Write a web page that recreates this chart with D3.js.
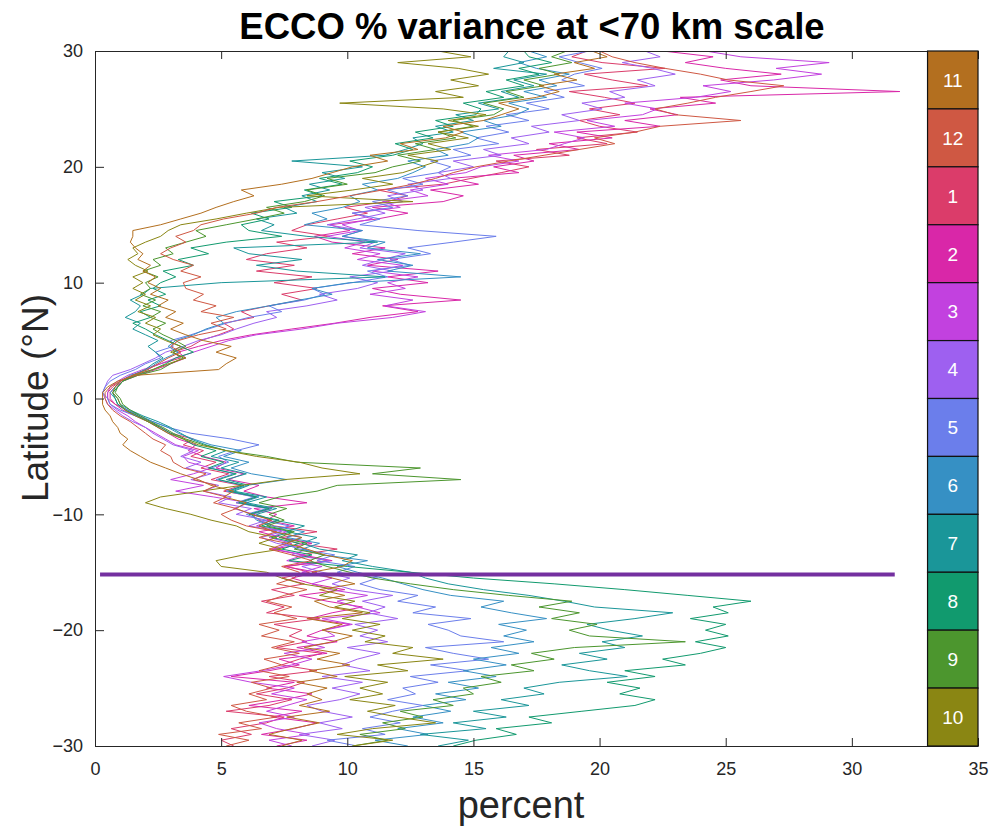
<!DOCTYPE html>
<html>
<head>
<meta charset="utf-8">
<script src="https://cdn.jsdelivr.net/npm/d3@7"></script>
<style>
  body { margin: 0; background: #fff; }
  text { font-family: "Liberation Sans", Arial, Helvetica, sans-serif; fill: #262626; }
</style>
</head>
<body>
<div id="chart"></div>
<script>
// month numbers and their line colours
var months = [1, 2, 3, 4, 5, 6, 7, 8, 9, 10, 11, 12];
var monthColors = ["#DB3C6A", "#D927A8", "#C241DF", "#9E60F0", "#6B7EEB", "#3690C4",
                   "#1A9699", "#119A6E", "#4C962E", "#8A8613", "#B36F1F", "#CF5843"];

// latitude grid, -30 .. 30 every half degree
var lat = d3.range(-30, 30.001, 0.5);

// % variance at <70 km, one array per month
var pct01 = [5.5,5.0,6.2,5.4,6.8,7.5,5.2,6.9,7.8,6.4,
  7.6,8.3,6.9,8.8,7.4,8.1,9.0,7.2,8.4,7.7,
  8.2,7.1,8.9,6.8,7.5,6.6,7.9,7.0,8.3,7.4,
  8.5,7.6,9.2,8.1,9.6,8.0,7.4,8.8,7.1,6.5,
  6.2,7.0,5.6,6.4,5.1,5.8,4.6,5.3,4.2,4.8,
  3.8,4.3,3.5,3.9,3.0,2.6,2.2,1.7,1.3,0.8,
  0.5,0.5,0.7,1.0,1.5,2.0,2.6,3.4,3.1,3.8,
  4.2,4.9,5.5,5.1,6.3,5.8,6.9,8.2,7.4,8.8,
  7.1,8.6,6.4,7.9,6.0,6.8,8.4,7.2,9.3,7.8,
  8.4,9.6,10.8,9.9,11.6,12.4,11.2,13.8,14.9,16.1,
  17.2,15.9,18.8,17.5,20.3,19.1,21.5,20.0,19.2,20.8,
  19.6,21.4,20.2,18.8,21.9,20.5,19.4,22.6,20.1,18.9,
  19.5];
var pct02 = [7.2,8.4,6.6,7.9,8.8,7.0,8.2,6.1,7.5,8.6,
  6.8,7.9,5.4,6.9,8.1,7.3,9.2,8.0,9.6,8.4,
  9.0,10.1,8.5,9.4,10.6,9.2,8.1,9.9,8.6,7.8,
  8.8,7.5,9.4,8.2,7.0,8.6,7.4,6.5,7.9,6.8,
  7.2,6.3,8.4,6.8,5.9,6.5,5.3,5.9,4.8,5.2,
  4.3,3.7,4.0,3.3,2.9,2.5,2.1,1.6,1.1,0.8,
  0.6,0.6,0.8,1.1,1.7,2.4,3.0,3.6,3.3,4.1,
  5.0,6.2,7.8,9.5,10.9,12.8,11.4,14.5,12.1,11.0,
  13.2,11.6,13.6,10.8,12.0,10.2,11.5,9.4,8.7,10.1,
  9.3,11.2,12.4,11.0,13.8,14.6,13.3,15.2,14.1,16.8,
  15.8,17.4,16.6,19.2,18.0,20.5,19.1,22.4,21.0,23.1,
  22.0,24.6,23.2,31.9,26.0,24.8,27.2,25.0,23.4,24.5,
  22.5];
var pct03 = [7.8,6.9,8.5,7.2,6.5,7.9,6.8,7.6,8.4,7.0,
  7.9,6.2,5.1,6.6,7.8,8.6,7.5,9.1,8.2,9.5,
  9.1,10.2,9.0,11.3,10.4,9.6,10.8,9.3,8.6,9.4,
  8.2,9.0,7.6,8.3,7.1,7.8,6.9,7.6,6.4,7.0,
  6.3,5.5,6.1,4.7,3.2,4.3,3.0,3.9,4.6,3.7,
  3.5,4.1,3.2,2.8,2.4,2.0,1.6,1.3,0.9,0.6,
  0.5,0.5,0.6,0.9,1.3,1.9,2.6,3.2,3.9,4.6,
  5.3,6.4,8.2,9.6,11.8,13.1,11.5,12.6,10.9,12.3,
  11.6,12.8,11.0,12.2,10.4,11.3,9.9,10.7,9.2,10.5,
  9.8,11.0,10.2,12.1,11.4,13.2,12.5,14.0,13.1,14.7,
  15.3,16.8,15.6,17.9,18.6,19.4,18.2,20.6,19.5,21.7,
  22.3,21.0,23.8,25.2,24.1,26.9,28.8,27.0,29.1,25.6,
  24.2];
var pct04 = [8.6,9.5,8.1,9.8,8.9,10.2,9.0,8.4,9.7,10.5,
  9.4,10.6,9.0,10.9,9.8,10.4,11.3,10.0,11.6,10.5,
  11.2,10.3,12.0,10.8,11.5,10.6,11.8,10.2,9.4,10.1,
  9.0,8.2,9.3,7.8,8.4,7.2,6.6,7.4,6.1,6.8,
  5.6,6.2,4.9,5.4,4.3,4.9,3.8,4.6,3.6,4.2,
  3.4,3.9,3.1,2.7,2.3,2.0,1.5,1.1,0.8,0.5,
  0.4,0.3,0.4,0.5,0.7,1.4,1.9,2.4,2.8,3.5,
  4.1,5.0,5.6,6.3,7.2,6.8,8.4,9.6,8.9,10.4,
  11.2,10.1,11.8,10.6,11.4,12.3,10.5,11.1,9.8,10.6,
  9.2,10.4,11.5,10.7,12.2,11.6,13.0,12.4,14.1,13.6,
  15.0,14.2,16.1,15.4,17.2,16.5,18.0,17.3,19.2,18.5,
  20.1,19.3,21.0,20.4,22.2,21.5,23.0,22.1,20.9,22.4,
  21.8];
var pct05 = [10.4,9.2,11.5,10.6,12.1,10.9,11.8,13.0,11.6,12.7,
  12.2,13.6,12.5,14.8,13.3,15.6,14.2,13.1,16.2,14.5,
  14.0,13.2,14.9,12.6,13.5,12.0,12.8,11.3,10.5,11.2,
  9.6,10.3,8.8,9.5,8.1,7.4,8.2,7.0,7.7,6.6,
  6.0,6.8,5.6,6.3,5.2,5.9,4.8,5.5,4.6,5.3,
  4.9,5.6,6.5,5.4,3.8,2.9,2.3,1.6,1.0,0.6,
  0.5,0.3,0.4,0.6,1.0,1.6,2.0,2.6,2.4,3.1,
  3.0,3.8,4.5,5.2,6.1,7.4,6.9,8.3,9.1,8.6,
  10.2,11.6,10.8,12.5,11.7,13.3,12.4,14.2,15.9,12.8,
  10.5,11.3,10.2,11.8,11.0,12.4,11.6,13.0,12.2,13.6,
  14.1,13.3,14.9,14.2,16.0,15.1,16.4,15.5,17.2,16.3,
  18.0,17.1,18.6,17.8,19.4,18.5,19.0,20.1,19.2,18.4,
  19.6];
var pct06 = [12.4,11.1,13.2,12.0,13.8,12.6,14.1,13.0,14.7,13.5,
  15.2,14.0,15.9,14.6,16.3,15.0,16.8,15.7,17.4,16.2,
  17.1,16.0,17.9,16.5,15.3,16.2,14.1,13.0,12.2,11.4,
  10.4,9.6,10.8,9.0,8.2,8.9,7.6,8.3,7.0,6.4,
  6.2,7.0,5.8,6.5,5.4,6.0,7.6,6.2,5.4,6.1,
  5.1,5.8,4.6,3.9,3.3,2.9,2.3,1.8,1.3,0.9,
  0.8,0.6,0.8,1.0,1.4,2.1,2.4,2.8,3.3,2.9,
  3.2,3.9,4.4,5.1,4.8,5.6,6.9,8.1,9.4,8.6,
  10.1,14.5,11.6,12.6,11.2,12.9,10.8,11.5,9.8,10.6,
  8.3,9.2,8.6,9.8,10.5,10.1,11.2,10.6,12.0,12.6,
  13.1,12.4,14.0,13.5,14.8,15.2,14.5,16.1,15.4,16.7,
  17.2,16.4,17.9,17.0,18.3,17.6,18.8,17.5,16.8,17.9,
  17.2];
var pct07 = [13.6,14.8,12.9,15.5,14.2,16.3,15.0,17.2,16.1,17.8,
  17.0,18.4,21.1,19.6,18.5,20.3,19.2,21.0,20.1,21.7,
  20.4,19.5,21.4,22.9,19.8,18.6,17.2,15.4,14.0,13.1,
  12.5,11.0,9.8,10.4,8.9,8.2,8.8,7.6,8.3,7.1,
  6.4,7.2,6.0,6.8,5.5,6.1,5.2,6.0,5.0,5.7,
  4.6,5.2,4.4,3.8,3.4,3.0,2.5,1.9,1.4,1.0,
  0.9,0.7,0.9,1.1,1.5,2.0,2.3,2.7,2.4,2.1,
  2.5,2.0,1.5,1.8,1.2,1.6,1.8,1.4,1.9,2.2,
  5.0,11.5,8.0,6.4,8.2,6.1,5.5,11.2,8.4,6.6,
  7.1,6.4,8.0,7.5,8.8,8.2,9.3,8.5,9.9,9.0,
  10.6,7.8,11.5,12.3,13.0,12.6,14.2,13.5,15.0,14.3,
  16.0,15.2,16.8,16.1,17.4,16.6,17.9,15.8,17.0,16.2,
  16.4];
var pct08 = [14.2,15.1,16.7,15.9,18.1,17.2,19.3,21.4,22.2,20.8,
  21.6,20.3,22.2,21.0,23.4,22.5,24.0,25.0,23.8,25.1,
  24.2,25.0,23.6,25.1,24.5,26.0,23.5,21.0,18.2,15.0,
  12.5,10.0,7.7,8.6,7.4,8.1,7.0,7.8,6.6,7.3,
  6.1,6.9,5.7,6.4,5.3,5.9,4.9,5.6,4.5,5.1,
  4.2,4.8,3.9,3.5,3.0,2.6,2.1,1.7,1.2,0.9,
  0.8,0.7,0.9,1.1,1.6,2.3,2.8,3.2,3.9,3.4,
  2.9,2.4,2.0,1.5,2.2,1.8,2.6,2.1,2.8,2.3,
  2.6,3.2,2.7,3.9,3.3,4.5,3.8,5.2,7.4,6.1,
  5.8,6.9,6.2,7.8,7.1,9.0,8.3,9.8,8.9,10.4,
  11.0,10.1,11.8,12.6,11.9,13.4,12.7,14.2,13.5,15.1,
  15.3,14.6,16.2,15.5,17.0,16.3,17.6,16.8,18.1,17.2,
  17.0];
var pct09 = [10.2,11.6,10.5,12.3,11.4,13.0,12.1,14.2,13.4,15.0,
  14.6,16.1,15.3,17.4,16.5,18.2,17.3,19.0,23.4,19.6,
  18.8,19.9,18.1,19.2,17.6,18.9,16.4,14.2,12.5,11.0,
  10.1,9.2,8.5,9.1,7.9,8.4,7.3,7.9,6.8,7.5,
  6.9,7.6,6.5,7.3,8.8,9.6,14.5,11.0,12.9,8.0,
  6.8,5.2,4.3,3.6,3.1,2.7,2.2,1.8,1.4,1.1,
  1.0,0.8,0.9,1.1,1.7,2.6,3.0,3.5,3.1,3.6,
  3.2,2.7,2.3,2.8,2.2,2.6,1.9,2.4,1.8,2.2,
  2.0,2.5,1.9,2.6,2.3,3.1,2.8,3.6,4.4,4.0,
  5.2,6.4,7.5,6.8,8.3,9.1,8.4,10.0,9.2,11.1,
  11.8,12.9,12.0,13.5,12.7,14.3,13.6,15.0,14.2,15.8,
  16.2,15.4,17.0,16.3,17.8,17.0,18.4,17.6,18.9,18.1,
  18.7];
var pct10 = [10.2,11.8,9.6,11.0,13.5,12.0,10.8,11.9,10.1,11.4,
  10.5,11.6,9.9,12.4,11.2,13.8,11.8,12.6,10.7,11.5,
  10.2,11.3,9.8,10.9,9.5,10.3,8.9,9.6,8.2,7.4,
  6.8,5.0,4.8,5.9,7.4,6.5,7.2,6.1,5.6,4.6,
  3.8,2.8,2.0,2.6,4.2,5.8,7.5,10.5,9.0,8.1,
  6.4,5.2,4.1,3.5,2.9,2.5,2.1,1.6,1.2,1.0,
  0.9,0.7,0.8,1.0,1.5,2.3,2.9,3.6,3.0,3.4,
  2.8,2.3,2.6,2.0,2.4,1.7,2.2,1.6,2.0,1.5,
  1.9,1.5,2.1,1.6,1.3,1.7,1.5,2.0,2.6,2.9,
  3.4,4.8,6.0,7.3,12.6,8.4,10.2,11.8,10.6,12.2,
  12.9,13.6,12.4,14.1,13.2,14.8,13.6,15.2,14.0,15.5,
  13.8,9.7,14.6,13.5,15.2,14.1,15.6,14.4,12.0,14.9,
  13.6];
var pct11 = [7.4,8.2,6.9,7.8,8.9,7.6,9.3,8.1,9.0,8.4,
  9.2,8.0,9.6,8.5,10.1,8.8,9.7,8.3,9.4,10.2,
  9.0,9.8,8.4,10.6,9.3,8.7,9.9,8.9,10.3,9.4,
  8.6,9.8,10.2,9.1,8.4,7.6,8.2,7.1,6.5,7.0,
  6.2,5.6,6.0,5.1,5.5,4.6,4.1,3.4,2.8,2.2,
  1.8,1.4,1.1,1.3,1.0,0.9,0.7,0.6,0.4,0.3,
  0.3,0.3,0.5,0.9,1.6,4.9,5.2,5.6,4.8,5.4,
  4.3,3.6,3.0,3.5,2.8,3.2,2.5,2.9,2.2,2.6,
  2.1,2.4,1.9,2.2,1.7,1.9,1.6,1.4,1.5,1.5,
  2.6,3.4,4.2,4.8,5.5,6.3,5.8,7.4,8.6,9.4,
  10.2,11.6,10.9,12.8,12.1,13.9,14.6,13.8,15.4,16.1,
  16.8,16.0,17.5,18.4,17.6,19.1,18.2,19.8,19.0,20.3,
  19.7];
var pct12 = [5.2,6.1,4.9,6.6,5.7,7.2,6.0,5.4,6.8,6.1,
  7.0,6.2,7.7,6.5,7.4,6.7,8.1,7.0,7.9,6.6,
  7.3,6.5,8.0,7.1,7.8,6.8,7.5,8.4,7.2,7.9,
  8.1,7.4,8.6,7.8,6.9,7.6,6.5,7.2,6.0,5.4,
  5.0,5.6,4.7,5.2,4.3,4.8,3.9,4.4,3.5,3.1,
  3.0,2.6,2.8,2.3,2.0,1.7,1.4,1.0,0.7,0.5,
  0.4,0.4,0.6,1.0,1.5,2.1,2.5,2.9,3.4,3.0,
  3.3,4.1,5.2,4.6,5.5,4.2,4.8,3.9,4.3,3.6,
  3.5,4.2,3.4,3.9,3.1,2.6,3.0,3.6,3.2,3.9,
  4.2,5.1,6.4,7.2,8.8,10.1,11.4,12.6,13.5,14.2,
  15.1,16.4,17.8,19.2,20.6,19.8,21.4,22.4,25.6,23.0,
  22.2,23.5,24.6,26.0,27.3,25.1,24.0,22.6,21.4,20.5,
  20.0];
var series = [pct01, pct02, pct03, pct04, pct05, pct06,
              pct07, pct08, pct09, pct10, pct11, pct12];

// tick labels
var xTicks = [0, 5, 10, 15, 20, 25, 30, 35];
var yTicks = [-30, -20, -10, 0, 10, 20, 30];

// horizontal marker line
var markLat = -15.2;
var markFrom = 0.2;
var markTo = 31.7;

// month colour key, top to bottom, each band 5 degrees tall
var keyMonths = [11, 12, 1, 2, 3, 4, 5, 6, 7, 8, 9, 10];
var keyTops = [30, 25, 20, 15, 10, 5, 0, -5, -10, -15, -20, -25];
var keyLeft = 33;

var width = 992, height = 827;
var margin = {top: 51, right: 14, bottom: 81, left: 95};

var svg = d3.select("#chart").append("svg")
  .attr("width", width)
  .attr("height", height);

var x = d3.scaleLinear().domain([0, 35]).range([margin.left, width - margin.right]);
var y = d3.scaleLinear().domain([-30, 30]).range([height - margin.bottom, margin.top]);

svg.append("clipPath").attr("id", "plotclip")
  .append("rect")
  .attr("x", x(0)).attr("y", y(30))
  .attr("width", x(35) - x(0)).attr("height", y(-30) - y(30));

// profiles
var line = d3.line()
  .x(function (d) { return x(d[0]); })
  .y(function (d) { return y(d[1]); });

var g = svg.append("g").attr("clip-path", "url(#plotclip)");
g.selectAll("path.month")
  .data(series)
  .enter().append("path")
  .attr("class", "month")
  .attr("fill", "none")
  .attr("stroke", function (d, i) { return monthColors[i]; })
  .attr("stroke-width", 1)
  .attr("stroke-linejoin", "round")
  .attr("d", function (vals) {
    return line(vals.map(function (v, j) { return [v, lat[j]]; }));
  });

g.append("line")
  .attr("x1", x(markFrom)).attr("x2", x(markTo))
  .attr("y1", y(markLat)).attr("y2", y(markLat))
  .attr("stroke", "#7430A0")
  .attr("stroke-width", 4);

// axes
var axisColor = "#262626";
function styleAxis(sel) {
  sel.select(".domain").attr("stroke", axisColor);
  sel.selectAll(".tick line").attr("stroke", axisColor);
  sel.selectAll(".tick text")
    .attr("fill", axisColor)
    .style("font-size", "18px")
    .style("font-family", "'Liberation Sans', Arial, sans-serif");
}

svg.append("g")
  .attr("transform", "translate(0," + y(-30) + ")")
  .call(d3.axisBottom(x).tickValues(xTicks).tickSizeInner(-8).tickSizeOuter(0).tickPadding(16))
  .call(styleAxis);

svg.append("g")
  .attr("transform", "translate(0," + y(30) + ")")
  .call(d3.axisTop(x).tickValues(xTicks).tickSizeInner(-8).tickSizeOuter(0).tickFormat(""))
  .call(styleAxis);

svg.append("g")
  .attr("transform", "translate(" + x(0) + ",0)")
  .call(d3.axisLeft(y).tickValues(yTicks).tickSizeInner(-9).tickSizeOuter(0).tickPadding(12))
  .call(styleAxis);

// colour key
var key = svg.append("g");
key.selectAll("rect")
  .data(keyMonths)
  .enter().append("rect")
  .attr("x", x(keyLeft))
  .attr("y", function (d, i) { return y(keyTops[i]); })
  .attr("width", x(35) - x(keyLeft))
  .attr("height", function (d, i) { return y(keyTops[i] - 5) - y(keyTops[i]); })
  .attr("fill", function (d) { return monthColors[d - 1]; })
  .attr("stroke", "#111")
  .attr("stroke-width", 1.2);

key.selectAll("text")
  .data(keyMonths)
  .enter().append("text")
  .attr("x", (x(keyLeft) + x(35)) / 2)
  .attr("y", function (d, i) { return (y(keyTops[i]) + y(keyTops[i] - 5)) / 2; })
  .attr("dy", "0.36em")
  .attr("text-anchor", "middle")
  .style("fill", "#fff")
  .style("font-size", "19px")
  .text(function (d) { return d; });

// title and axis labels
svg.append("text")
  .attr("x", 532).attr("y", 39)
  .attr("text-anchor", "middle")
  .style("font-size", "36.5px")
  .style("font-weight", "bold")
  .style("fill", "#000")
  .text("ECCO % variance at <70 km scale");

svg.append("text")
  .attr("x", 521).attr("y", 818)
  .attr("text-anchor", "middle")
  .style("font-size", "38px")
  .text("percent");

svg.append("text")
  .attr("transform", "translate(48," + 398 + ") rotate(-90)")
  .attr("text-anchor", "middle")
  .style("font-size", "37px")
  .text("Latitude (\u00B0N)");
</script>
</body>
</html>
